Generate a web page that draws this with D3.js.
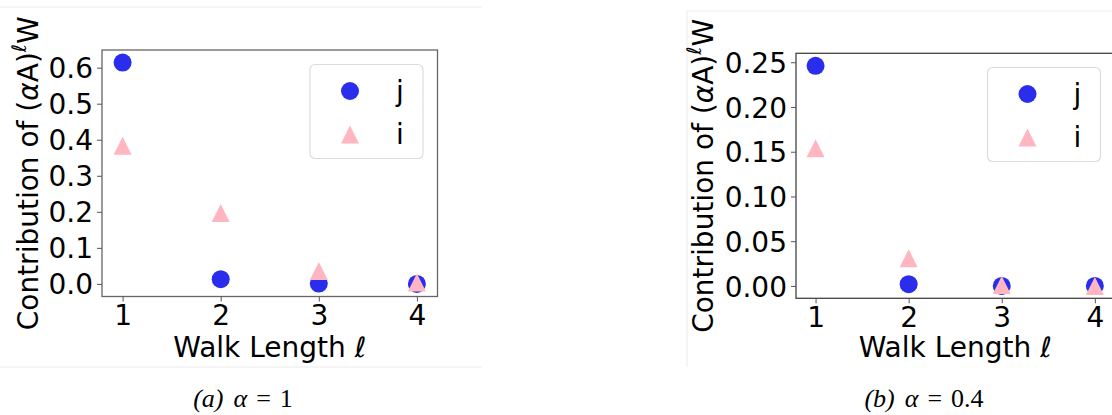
<!DOCTYPE html>
<html>
<head>
<meta charset="utf-8">
<script src="https://cdn.jsdelivr.net/npm/d3@7"></script>
<style>
  body { margin: 0; background: #fff; }
  svg { display: block; }
</style>
</head>
<body>
<div id="chart"></div>
<script>
(function() {
  const width = 1112
  const height = 415

  // walk lengths on the x axis
  const walkLengths = [1, 2, 3, 4]
  const seriesNames = ['j', 'i']

  // (a) alpha = 1
  const jAlpha1 = [0.614, 0.013, 0.001, 0.0]
  const iAlpha1 = [0.383, 0.197, 0.036, 0.004]
  const yTicksAlpha1 = [0.0, 0.1, 0.2, 0.3, 0.4, 0.5, 0.6]

  // (b) alpha = 0.4
  const jAlpha04 = [0.246, 0.002, 0.0, 0.0]
  const iAlpha04 = [0.154, 0.031, 0.001, 0.0]
  const yTicksAlpha04 = [0.0, 0.05, 0.10, 0.15, 0.20, 0.25]

  const blue = '#2a2eec'
  const pink = '#ffb6c1'
  const font = 'DejaVu Sans'

  const svg = d3.select('#chart').append('svg')
      .attr('width', width)
      .attr('height', height)

  // triangle like matplotlib '^' (centred on its bounding box)
  const tri = (s) => `M0,${-s}L${-s},${s}L${s},${s}Z`

  const panel = (cfg) => {
    const g = svg.append('g')

    // faint border of the embedded figure
    g.append('g')
        .attr('stroke', '#ececec')
        .attr('stroke-width', 1)
      .selectAll('line')
      .data(cfg.frame)
      .enter().append('line')
        .attr('x1', d => d[0]).attr('y1', d => d[1])
        .attr('x2', d => d[2]).attr('y2', d => d[3])

    const x = d3.scaleLinear().domain([0.79, 4.21]).range([cfg.left, cfg.left + cfg.xUnit * 3.42])
    const y = d3.scaleLinear().domain(cfg.yDomain).range([cfg.bottom, cfg.top])

    // axes frame
    g.append('rect')
        .attr('x', cfg.left)
        .attr('y', cfg.top)
        .attr('width', x.range()[1] - cfg.left)
        .attr('height', cfg.bottom - cfg.top)
        .attr('fill', 'none')
        .attr('stroke', cfg.spine)
        .attr('stroke-width', 1.3)

    const yAxis = g.append('g')
        .attr('transform', `translate(${cfg.left},0)`)
        .call(d3.axisLeft(y).tickValues(cfg.yTicks).tickFormat(d3.format(cfg.fmt)).tickSize(5).tickPadding(4))
    const xAxis = g.append('g')
        .attr('transform', `translate(0,${cfg.bottom})`)
        .call(d3.axisBottom(x).tickValues(walkLengths).tickFormat(d3.format('d')).tickSize(5).tickPadding(4))
    ;[yAxis, xAxis].forEach(a => {
      a.select('.domain').remove()
      a.selectAll('line').attr('stroke', '#555')
      a.selectAll('text')
          .attr('font-family', font)
          .attr('font-size', 28)
          .attr('fill', '#000')
    })
    yAxis.selectAll('text').attr('dy', '0.36em')

    // axis labels
    const yl = g.append('text')
        .attr('transform', `translate(${cfg.ylabelX},${(cfg.top + cfg.bottom) / 2}) rotate(-90)`)
        .attr('text-anchor', 'middle')
        .attr('font-family', font)
        .attr('font-size', 28)
    yl.append('tspan').text('Contribution of (')
    yl.append('tspan').attr('font-style', 'italic').text('α')
    yl.append('tspan').text('A)')
    yl.append('tspan').attr('font-style', 'italic').attr('font-size', 20).attr('dy', -12).text('ℓ')
    yl.append('tspan').attr('dy', 12).text('W')

    const xl = g.append('text')
        .attr('x', (cfg.left + x(4.21)) / 2)
        .attr('y', 357)
        .attr('text-anchor', 'middle')
        .attr('font-family', font)
        .attr('font-size', 28)
    xl.append('tspan').text('Walk Length ')
    xl.append('tspan').attr('font-style', 'italic').text('ℓ')

    // points: j circles then i triangles on top
    g.append('g')
      .selectAll('circle')
      .data(cfg.j)
      .enter().append('circle')
        .attr('cx', (d, k) => x(walkLengths[k]))
        .attr('cy', d => y(d))
        .attr('r', 9)
        .attr('fill', blue)
    g.append('g')
      .selectAll('path')
      .data(cfg.i)
      .enter().append('path')
        .attr('transform', (d, k) => `translate(${x(walkLengths[k])},${y(d)})`)
        .attr('d', tri(9))
        .attr('fill', pink)

    // legend
    const lg = g.append('g').attr('transform', `translate(${cfg.legend[0]},${cfg.legend[1]})`)
    lg.append('rect')
        .attr('width', 113).attr('height', 94)
        .attr('rx', 5)
        .attr('fill', '#fff')
        .attr('stroke', '#dcdcdc')
        .attr('stroke-width', 1.2)
    lg.append('circle').attr('cx', 40).attr('cy', 26.5).attr('r', 9).attr('fill', blue)
    lg.append('path').attr('transform', 'translate(40,70)').attr('d', tri(9)).attr('fill', pink)
    lg.selectAll('text.lab')
      .data(seriesNames)
      .enter().append('text')
        .attr('class', 'lab')
        .attr('x', 86)
        .attr('y', (d, k) => 36 + k * 43)
        .attr('font-family', font)
        .attr('font-size', 28)
        .text(d => d)

    // caption
    const cap = g.append('text')
        .attr('x', cfg.capX)
        .attr('y', 407)
        .attr('text-anchor', 'middle')
        .attr('font-family', 'Liberation Serif')
        .attr('font-size', 26)
    cap.append('tspan').attr('font-style', 'italic').text(cfg.tag)
    cap.append('tspan').attr('dx', 10).attr('font-style', 'italic').text('α')
    cap.append('tspan').attr('dx', 9).text('=')
    cap.append('tspan').attr('dx', 9).text(cfg.alpha)
  }

  panel({
    frame: [[0, 7, 482, 7], [0, 367, 482, 367]],
    left: 102, top: 50, bottom: 296.5, xUnit: 98.1,
    yDomain: [-0.035, 0.649], yTicks: yTicksAlpha1, fmt: '.1f',
    spine: '#666', ylabelX: 37.5,
    j: jAlpha1, i: iAlpha1,
    legend: [310, 64.5],
    capX: 243, tag: '(a)', alpha: '1'
  })

  panel({
    frame: [[687, 11, 1112, 11], [687, 11, 687, 367]],
    left: 796, top: 53.3, bottom: 298.3, xUnit: 93.1,
    yDomain: [-0.0138, 0.26], yTicks: yTicksAlpha04, fmt: '.2f',
    spine: '#444', ylabelX: 713,
    j: jAlpha04, i: iAlpha04,
    legend: [987.5, 67.5],
    capX: 924, tag: '(b)', alpha: '0.4'
  })
})()
</script>
</body>
</html>
